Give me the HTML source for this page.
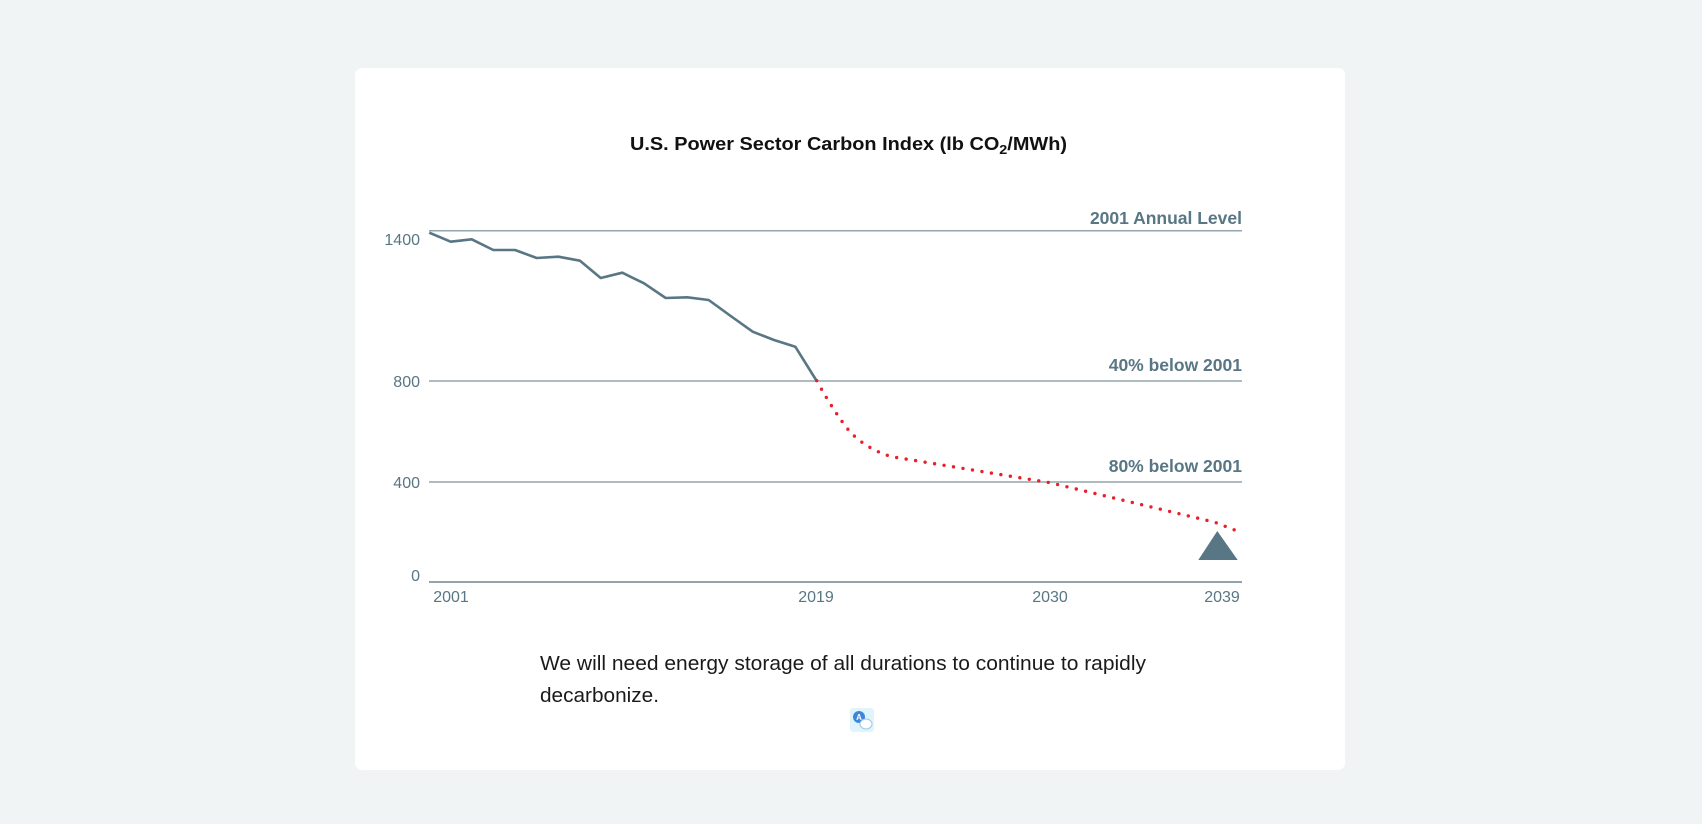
<!DOCTYPE html>
<html><head><meta charset="utf-8"><style>
html,body{margin:0;padding:0;background:#f1f4f5;}
body{width:1702px;height:824px;position:relative;overflow:hidden;font-family:"Liberation Sans",sans-serif;}
.card{position:absolute;left:355px;top:68px;width:990px;height:702px;background:#fff;border-radius:7px;}
svg{position:absolute;left:0;top:0;}
</style></head><body>
<div class="card"></div>
<svg width="1702" height="824" viewBox="0 0 1702 824">
<text x="630" y="150" font-family="Liberation Sans" font-weight="bold" font-size="18" fill="#111" textLength="437" lengthAdjust="spacingAndGlyphs">U.S. Power Sector Carbon Index (lb CO<tspan font-size="13" dy="4">2</tspan><tspan dy="-4">/MWh)</tspan></text>
<g stroke="#93a6ae" stroke-width="1.5">
<line x1="429" y1="230.7" x2="1242" y2="230.7"/>
<line x1="429" y1="381" x2="1242" y2="381"/>
<line x1="429" y1="482" x2="1242" y2="482"/>
</g>
<line x1="429" y1="582" x2="1242" y2="582" stroke="#6f8791" stroke-width="1.5"/>
<g font-family="Liberation Sans" font-size="16" fill="#587684" text-anchor="end">
<text x="420" y="245">1400</text>
<text x="420" y="387">800</text>
<text x="420" y="488">400</text>
<text x="420" y="581">0</text>
</g>
<g font-family="Liberation Sans" font-size="16" fill="#587684" text-anchor="middle">
<text x="451" y="602">2001</text>
<text x="816" y="602">2019</text>
<text x="1050" y="602">2030</text>
<text x="1222" y="602">2039</text>
</g>
<g font-family="Liberation Sans" font-weight="bold" font-size="17.5" fill="#587684" text-anchor="end">
<text x="1242" y="224">2001 Annual Level</text>
<text x="1242" y="371">40% below 2001</text>
<text x="1242" y="472">80% below 2001</text>
</g>
<polyline fill="none" stroke="#587684" stroke-width="2.6" stroke-linejoin="round" points="429.3,232.7 450.7,241.7 471.7,239.3 493.3,250 515,250 536.7,258 558.3,256.7 580,260.7 600.7,278 622.3,272.7 644,283.3 665.7,298 687.3,297.3 708.7,300 730.7,316 752.7,331.7 774,340 795.3,346.7 816.7,381"/>
<path fill="none" stroke="#e8202a" stroke-width="3.4" stroke-linecap="round" stroke-dasharray="0 9.6" d="M816.7,380.7 Q834,412 849.3,431 Q866,449 891.7,456.7 L1050,482.7 L1215,522.3 L1236,530.5"/>
<polygon points="1198.3,560 1237.7,560 1217.3,531" fill="#587684"/>
<g font-family="Liberation Sans" font-size="20" fill="#1a1a1a">
<text x="540" y="670" textLength="606" lengthAdjust="spacingAndGlyphs">We will need energy storage of all durations to continue to rapidly</text>
<text x="540" y="702" textLength="119" lengthAdjust="spacingAndGlyphs">decarbonize.</text>
</g>
<rect x="850" y="708" width="24" height="24" rx="3" fill="#dff4fb"/>
<circle cx="859" cy="717" r="6" fill="#3f86d8"/>
<text x="859" y="720" font-size="8" fill="#fff" text-anchor="middle" font-family="Liberation Sans" font-weight="bold">A</text>
<ellipse cx="866" cy="724" rx="6" ry="5" fill="#fff" stroke="#9cc9ea" stroke-width="1"/>
</svg>
</body></html>
